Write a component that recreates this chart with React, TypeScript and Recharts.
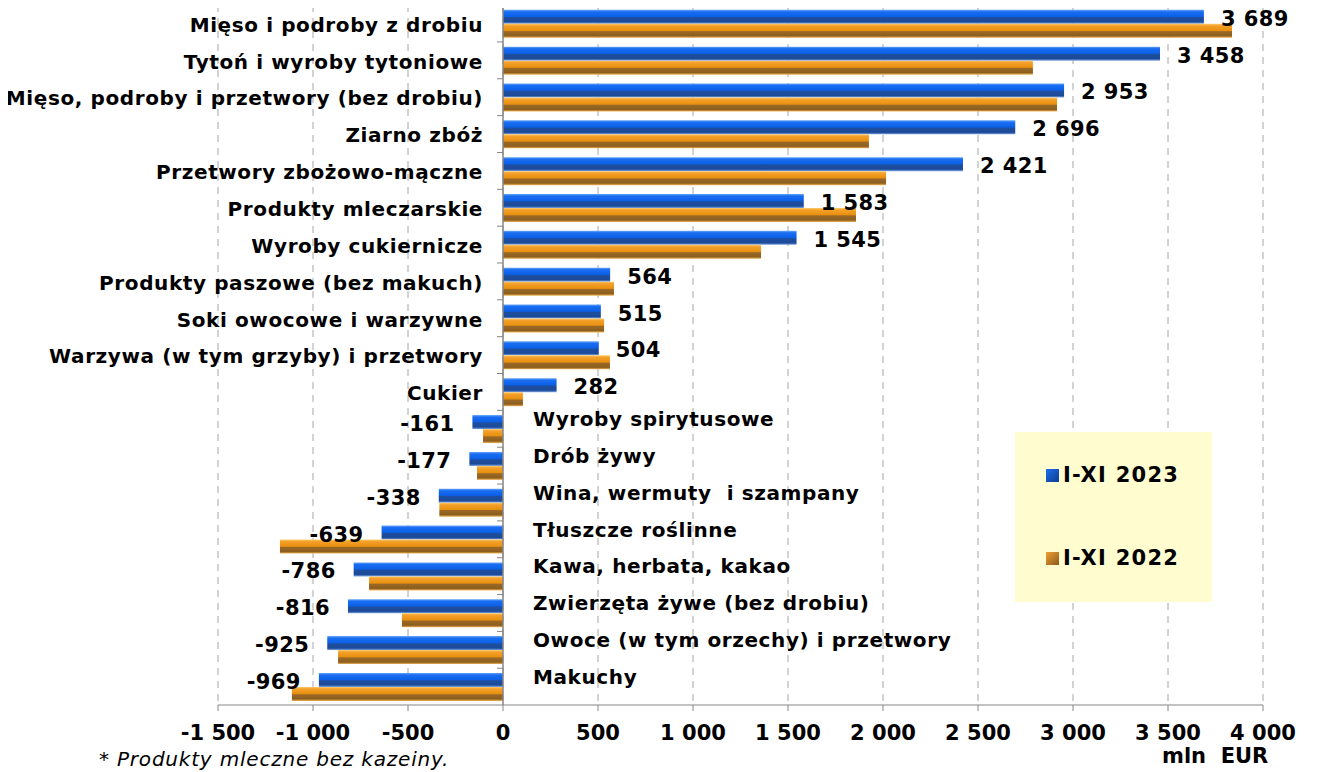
import React from 'react';
import { BarChart, Bar, XAxis, YAxis, CartesianGrid, ReferenceLine, LabelList, Legend } from 'recharts';

const categories = [
  'Mięso i podroby z drobiu',
  'Tytoń i wyroby tytoniowe',
  'Mięso, podroby i przetwory (bez drobiu)',
  'Ziarno zbóż',
  'Przetwory zbożowo-mączne',
  'Produkty mleczarskie',
  'Wyroby cukiernicze',
  'Produkty paszowe (bez makuch)',
  'Soki owocowe i warzywne',
  'Warzywa (w tym grzyby) i przetwory',
  'Cukier',
  'Wyroby spirytusowe',
  'Drób żywy',
  'Wina, wermuty  i szampany',
  'Tłuszcze roślinne',
  'Kawa, herbata, kakao',
  'Zwierzęta żywe (bez drobiu)',
  'Owoce (w tym orzechy) i przetwory',
  'Makuchy',
];

const values2023 = [3689, 3458, 2953, 2696, 2421, 1583, 1545, 564, 515, 504, 282, -161, -177, -338, -639, -786, -816, -925, -969];
const values2022 = [3837, 2789, 2916, 1926, 2016, 1858, 1358, 584, 532, 563, 105, -105, -137, -335, -1174, -705, -532, -868, -1111];

const xTicks = [-1500, -1000, -500, 0, 500, 1000, 1500, 2000, 2500, 3000, 3500, 4000];

const seriesNames = ['I-XI 2023', 'I-XI 2022'];

const data = categories.map((name, i) => ({ name, v23: values2023[i], v22: values2022[i] }));

const FONT = "'DejaVu Sans', Verdana, sans-serif";

const fmt = (v: number) => {
  const s = String(Math.abs(v)).replace(/\B(?=(\d{3})+(?!\d))/g, ' ');
  return (v < 0 ? '-' : '') + s;
};

const zeroOf = (x: number, w: number, v: number) =>
  v >= 0 ? Math.min(x, x + w) : Math.max(x, x + w);
const endOf = (x: number, w: number, v: number) =>
  v >= 0 ? Math.max(x, x + w) : Math.min(x, x + w);

const ValueLabel = (props: any) => {
  const { x, y, width, height, index } = props;
  const v = values2023[index];
  const X = Number(x), W = Number(width), Y = Number(y), H = Number(height);
  const end = endOf(X, W, v);
  const cy = Y + H / 2 + 2;
  return (
    <text
      x={v >= 0 ? end + 17 : end - 18}
      y={cy}
      textAnchor={v >= 0 ? 'start' : 'end'}
      dominantBaseline="central"
      fontFamily={FONT}
      fontWeight="bold"
      fontSize={21}
      letterSpacing={0.4}
      fill="#000"
    >
      {fmt(v)}
    </text>
  );
};

const CategoryLabel = (props: any) => {
  const { x, y, width, height, index } = props;
  const v = values2023[index];
  const X = Number(x), W = Number(width), Y = Number(y), H = Number(height);
  const zero = zeroOf(X, W, v);
  const cy = v >= 0 ? Y + H + 1 : Y + H / 2 - 3;
  const tickY = Y - 4.7;
  return (
    <g>
      <line x1={zero - 6} x2={zero} y1={tickY} y2={tickY} stroke="#868686" strokeWidth={1} />
      <text
        x={v >= 0 ? zero - 20 : zero + 30}
        y={cy}
        textAnchor={v >= 0 ? 'end' : 'start'}
        dominantBaseline="central"
        fontFamily={FONT}
        fontWeight="bold"
        fontSize={20}
        letterSpacing={0.6}
        fill="#000"
        style={{ whiteSpace: 'pre' }}
      >
        {categories[index]}
      </text>
    </g>
  );
};

const LegendBox = () => (
  <div
    style={{
      width: 197,
      height: 170,
      background: '#FFFDD0',
      position: 'relative',
      fontFamily: FONT,
      fontWeight: 'bold',
      fontSize: 21,
      letterSpacing: 1.3,
      color: '#000',
    }}
  >
    {seriesNames.map((n, i) => (
      <div
        key={n}
        style={{
          position: 'absolute',
          left: 31,
          top: i === 0 ? 30 : 113,
          height: 26,
          display: 'flex',
          alignItems: 'center',
          whiteSpace: 'nowrap',
        }}
      >
        <svg width={13} height={13} style={{ marginRight: 4 }}>
          <defs>
            <linearGradient id={i === 0 ? 'legBlue' : 'legOrange'} x1="0" y1="0" x2="1" y2="1">
              <stop offset="0%" stopColor={i === 0 ? '#1E6FF0' : '#F0A030'} />
              <stop offset="100%" stopColor={i === 0 ? '#0D3C8C' : '#8A5A1C'} />
            </linearGradient>
          </defs>
          <rect width={13} height={13} fill={i === 0 ? 'url(#legBlue)' : 'url(#legOrange)'} />
        </svg>
        <span>{n}</span>
      </div>
    ))}
  </div>
);

export default function App() {
  return (
    <div style={{ position: 'relative', width: 1317, height: 772, marginLeft: -8, marginTop: -8, overflow: 'hidden', background: '#fff' }}>
      <BarChart
        width={1317}
        height={772}
        data={data}
        layout="vertical"
        margin={{ top: 5, right: 54, bottom: 7, left: 218 }}
        barCategoryGap="13%"
        barGap={0}
      >
        <defs>
          <linearGradient id="gBlue" x1="0" y1="0" x2="0" y2="1">
            <stop offset="0%" stopColor="#6AA6F8" />
            <stop offset="14%" stopColor="#1A6EF2" />
            <stop offset="48%" stopColor="#0B60E6" />
            <stop offset="56%" stopColor="#1E4E9E" />
            <stop offset="86%" stopColor="#1B4A98" />
            <stop offset="100%" stopColor="#7EA6E6" />
          </linearGradient>
          <linearGradient id="gOrange" x1="0" y1="0" x2="0" y2="1">
            <stop offset="0%" stopColor="#FCCB70" />
            <stop offset="14%" stopColor="#F4A02A" />
            <stop offset="48%" stopColor="#E8900F" />
            <stop offset="56%" stopColor="#9A6826" />
            <stop offset="86%" stopColor="#8C5E1E" />
            <stop offset="100%" stopColor="#F2B556" />
          </linearGradient>
        </defs>
        <CartesianGrid horizontal={false} vertical={true} stroke="#A6A6A6" strokeDasharray="7 6" />
        <XAxis
          type="number"
          domain={[-1500, 4000]}
          ticks={xTicks}
          interval={0}
          tickFormatter={fmt}
          axisLine={{ stroke: '#868686' }}
          tickLine={{ stroke: '#868686' }}
          tickSize={6}
          tickMargin={14}
          height={60}
          tick={{ fontFamily: FONT, fontWeight: 'bold', fontSize: 21, fill: '#000' }}
        />
        <YAxis type="category" dataKey="name" hide />
        <ReferenceLine x={0} stroke="#868686" strokeWidth={1.5} />
        <Bar dataKey="v23" name={seriesNames[0]} fill="url(#gBlue)" isAnimationActive={false}>
          <LabelList dataKey="v23" content={ValueLabel} />
          <LabelList dataKey="name" content={CategoryLabel} />
        </Bar>
        <Bar dataKey="v22" name={seriesNames[1]} fill="url(#gOrange)" isAnimationActive={false} />
        <Legend
          content={() => <LegendBox />}
          layout="horizontal"
          verticalAlign="middle"
          align="center"
          wrapperStyle={{ position: 'absolute', left: 1015, top: 432, width: 197, height: 170, margin: 0, padding: 0 }}
        />
      </BarChart>
      <div
        style={{
          position: 'absolute',
          left: 1162,
          top: 744,
          fontFamily: FONT,
          fontWeight: 'bold',
          fontSize: 21,
          whiteSpace: 'pre',
          color: '#000',
        }}
      >
        {'mln  EUR'}
      </div>
      <div
        style={{
          position: 'absolute',
          left: 99,
          top: 747,
          fontFamily: FONT,
          fontStyle: 'italic',
          fontSize: 20,
          letterSpacing: 0.8,
          whiteSpace: 'pre',
          color: '#000',
        }}
      >
        {'* Produkty mleczne bez kazeiny.'}
      </div>
    </div>
  );
}
